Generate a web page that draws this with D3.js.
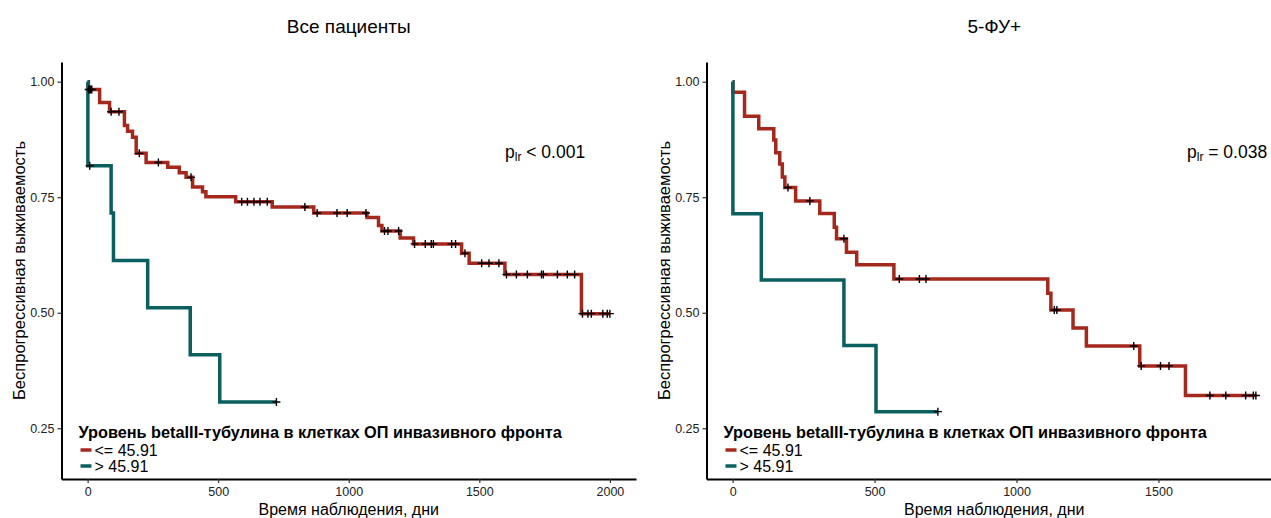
<!DOCTYPE html>
<html>
<head>
<meta charset="utf-8">
<script src="https://cdn.jsdelivr.net/npm/d3@7/dist/d3.min.js"></script>
<style>
  body { margin: 0; background: #fff; }
  svg { font-family: 'Liberation Sans', Arial, sans-serif; }
</style>
</head>
<body>
<script>
// Все пациенты, <= 45.91
const allLowTime = [0, 3, 46, 84, 141, 153, 172, 186, 224, 307, 351, 377, 402, 440, 453, 567, 707, 866, 1070, 1114, 1127, 1197, 1248, 1432, 1461, 1598, 1891];
const allLowSurv = [1.0, 0.983, 0.955, 0.935, 0.905, 0.893, 0.880, 0.845, 0.825, 0.815, 0.803, 0.793, 0.772, 0.762, 0.751, 0.740, 0.729, 0.716, 0.706, 0.689, 0.677, 0.662, 0.649, 0.629, 0.607, 0.583, 0.498];
const allLowCens = [4, 8, 12, 16, 90, 120, 198, 271, 396, 590, 612, 637, 660, 688, 832, 879, 955, 994, 1066, 1137, 1150, 1191, 1252, 1293, 1316, 1324, 1394, 1409, 1445, 1509, 1537, 1575, 1604, 1642, 1684, 1738, 1745, 1799, 1837, 1865, 1895, 1916, 1929, 1973, 1990, 2000];

// Все пациенты, > 45.91
const allHighTime = [0, 1, 90, 99, 230, 393, 506];
const allHighSurv = [1.0, 0.818, 0.716, 0.613, 0.511, 0.409, 0.307];
const allHighCens = [8, 723];

// 5-ФУ+, <= 45.91
const fuLowTime = [0, 1, 42, 92, 145, 152, 166, 175, 184, 222, 307, 358, 366, 401, 437, 568, 1110, 1121, 1199, 1246, 1434, 1595];
const fuLowSurv = [1.0, 0.977, 0.925, 0.898, 0.874, 0.846, 0.822, 0.794, 0.771, 0.742, 0.715, 0.685, 0.660, 0.631, 0.604, 0.573, 0.542, 0.506, 0.467, 0.428, 0.385, 0.321];
const fuLowCens = [195, 272, 392, 587, 658, 681, 1133, 1142, 1413, 1439, 1507, 1537, 1681, 1737, 1807, 1834, 1843];

// 5-ФУ+, > 45.91
const fuHighTime = [0, 1, 101, 392, 505];
const fuHighSurv = [1.0, 0.714, 0.571, 0.429, 0.286];
const fuHighCens = [723];

const yTicks = [0.25, 0.50, 0.75, 1.00];
const groupLabels = ['<= 45.91', '> 45.91'];
const legendTitle = 'Уровень betaIII-тубулина в клетках ОП инвазивного фронта';

const colors = ['#a5281d', '#0b5f5f'];
const width = 1271,
  height = 518,
  plotTop = 62,
  plotBottom = 479;

const svg = d3.select('body').append('svg')
    .attr('width', width)
    .attr('height', height);

const panels = [
  { title: 'Все пациенты', x0: 61.5, x1: 636, dom: [-100, 2100], ticks: [0, 500, 1000, 1500, 2000],
    p: ['p', 'lr', ' < 0.001'], px: 505,
    curves: [[allLowTime, allLowSurv, allLowCens], [allHighTime, allHighSurv, allHighCens]] },
  { title: '5-ФУ+', x0: 706.5, x1: 1282, dom: [-92, 1935], ticks: [0, 500, 1000, 1500],
    p: ['p', 'lr', ' = 0.038'], px: 1187,
    curves: [[fuLowTime, fuLowSurv, fuLowCens], [fuHighTime, fuHighSurv, fuHighCens]] },
];

// 1.00 sits at y=81.7, 0.25 at y=428
const y = d3.scaleLinear()
    .domain([1 - (plotBottom - 81.7) / 462.1, 1 + (81.7 - plotTop) / 462.1])
    .range([plotBottom, plotTop]);

function survAt(times, survs, t) {
  let s = survs[0];
  times.forEach((d, i) => { if (d <= t) s = survs[i]; });
  return s;
}

panels.forEach((p) => {
  const x = d3.scaleLinear().domain(p.dom).range([p.x0, p.x1]);
  const g = svg.append('g');
  const cx = (p.x0 + p.x1) / 2;

  g.append('text')
      .attr('x', cx)
      .attr('y', 33)
      .attr('text-anchor', 'middle')
      .style('font-size', '19px')
      .text(p.title);

  const line = d3.line()
      .x((d) => x(d[0]))
      .y((d) => y(d[1]))
      .curve(d3.curveStepAfter);

  p.curves.forEach((c, k) => {
    const pts = c[0].map((t, i) => [t, c[1][i]]);
    pts.push([d3.max(c[2]), c[1][c[1].length - 1]]);
    g.append('path')
        .datum(pts)
        .attr('fill', 'none')
        .attr('stroke', colors[k])
        .attr('stroke-width', 3.5)
        .attr('d', line);
  });

  p.curves.forEach((c) => {
    g.selectAll(null)
        .data(c[2])
      .enter().append('path')
        .attr('transform', (t) => `translate(${x(t)},${y(survAt(c[0], c[1], t))})`)
        .attr('d', 'M-4,0H4M0,-4V4')
        .attr('stroke', '#000')
        .attr('stroke-width', 1.4);
  });

  const xAxis = g.append('g')
      .attr('transform', `translate(0,${plotBottom})`)
      .call(d3.axisBottom(x).tickValues(p.ticks).tickFormat(d3.format('d')).tickSize(4).tickSizeOuter(0).tickPadding(4));
  const yAxis = g.append('g')
      .attr('transform', `translate(${p.x0},0)`)
      .call(d3.axisLeft(y).tickValues(yTicks).tickFormat(d3.format('.2f')).tickSize(4).tickSizeOuter(0).tickPadding(3));
  [xAxis, yAxis].forEach((a) => {
    a.select('.domain').attr('stroke', '#000').attr('stroke-width', 2);
    a.selectAll('.tick line').attr('stroke', '#333').attr('stroke-width', 1.2);
    a.selectAll('.tick text').attr('fill', '#222').style('font-size', '12.5px').style('font-family', null);
  });

  g.append('text')
      .attr('x', cx)
      .attr('y', 515)
      .attr('text-anchor', 'middle')
      .style('font-size', '16px')
      .text('Время наблюдения, дни');

  g.append('text')
      .attr('transform', `translate(${p.x0 - 37},${(plotTop + plotBottom) / 2}) rotate(-90)`)
      .attr('text-anchor', 'middle')
      .style('font-size', '16.5px')
      .text('Беспрогрессивная выживаемость');

  const pt = g.append('text')
      .attr('x', p.px)
      .attr('y', 158)
      .style('font-size', '17.5px');
  pt.append('tspan').text(p.p[0]);
  pt.append('tspan').attr('dy', 3).style('font-size', '12px').text(p.p[1]);
  pt.append('tspan').attr('dy', -3).text(p.p[2]);

  // Legend inside the panel, bottom left.
  const lx = p.x0 + 17;
  g.append('text')
      .attr('x', lx)
      .attr('y', 438)
      .style('font-size', '16.3px')
      .style('font-weight', 'bold')
      .text(legendTitle);
  groupLabels.forEach((l, i) => {
    g.append('line')
        .attr('x1', lx + 2)
        .attr('x2', lx + 13)
        .attr('y1', 450 + i * 16)
        .attr('y2', 450 + i * 16)
        .attr('stroke', colors[i])
        .attr('stroke-width', 3.5);
    g.append('text')
        .attr('x', lx + 16)
        .attr('y', 456 + i * 16)
        .style('font-size', '16px')
        .text(l);
  });
});
</script>
</body>
</html>
